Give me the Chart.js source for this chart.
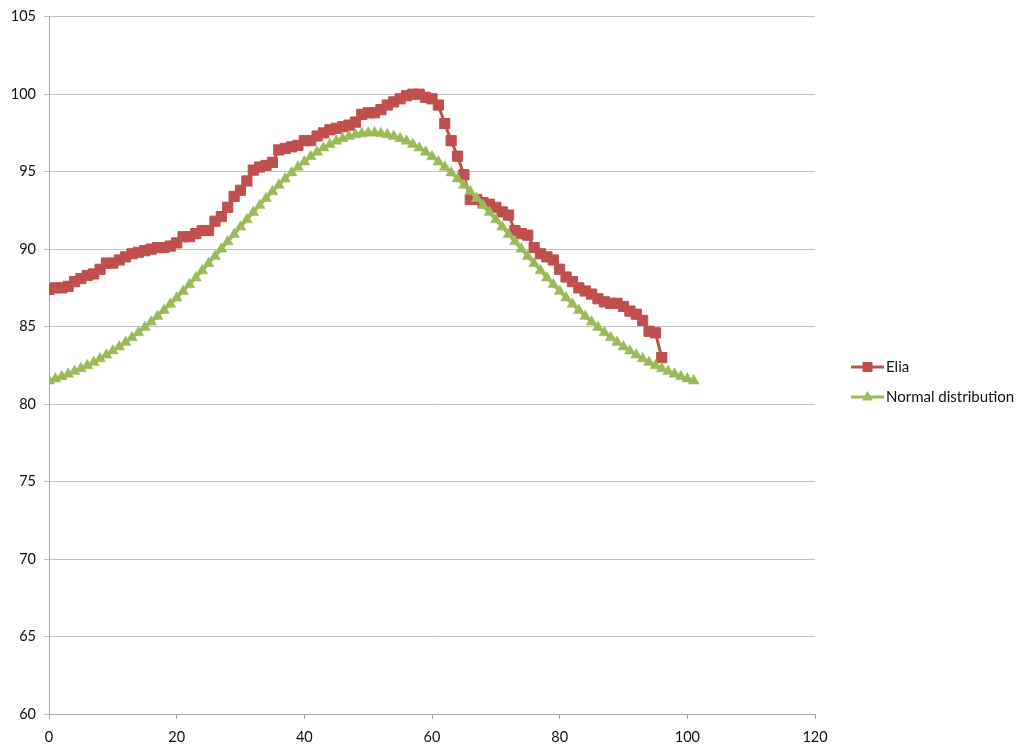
<!DOCTYPE html>
<html>
<head>
<meta charset="utf-8">
<script src="https://cdn.jsdelivr.net/npm/chart.js@4.4.0/dist/chart.umd.min.js"></script>
<style>
html,body{margin:0;padding:0;background:#fff;}
#wrap{position:relative;width:1024px;height:755px;}
</style>
</head>
<body>
<div id="wrap"><canvas id="c" width="1024" height="755"></canvas></div>
<script>
const seriesNames = ["Elia", "Normal distribution"];
const xTicks = [0, 20, 40, 60, 80, 100, 120];
const yTicks = [60, 65, 70, 75, 80, 85, 90, 95, 100, 105];

const elia = [
  87.4, 87.5, 87.5, 87.6, 87.9, 88.1, 88.3, 88.4, 88.7, 89.1,
  89.1, 89.3, 89.5, 89.7, 89.8, 89.9, 90.0, 90.1, 90.1, 90.2,
  90.4, 90.8, 90.8, 91.0, 91.2, 91.2, 91.8, 92.1, 92.7, 93.4,
  93.8, 94.4, 95.1, 95.3, 95.4, 95.6, 96.4, 96.5, 96.6, 96.7,
  97.0, 97.0, 97.3, 97.5, 97.7, 97.8, 97.9, 98.0, 98.2, 98.7,
  98.8, 98.8, 99.0, 99.3, 99.5, 99.7, 99.9, 100.0, 100.0, 99.8,
  99.7, 99.3, 98.1, 97.0, 96.0, 94.8, 93.2, 93.2, 93.0, 92.9,
  92.7, 92.4, 92.2, 91.2, 91.0, 90.9, 90.1, 89.7, 89.5, 89.3,
  88.7, 88.2, 87.9, 87.5, 87.3, 87.1, 86.8, 86.6, 86.5, 86.5,
  86.3, 86.0, 85.8, 85.4, 84.7, 84.6, 83.0
];

const normalDist = [
  81.50, 81.63, 81.78, 81.94, 82.11, 82.29, 82.49, 82.70, 82.93, 83.17,
  83.43, 83.70, 83.99, 84.29, 84.61, 84.95, 85.30, 85.67, 86.05, 86.45,
  86.85, 87.28, 87.71, 88.15, 88.61, 89.07, 89.53, 90.01, 90.48, 90.95,
  91.43, 91.90, 92.37, 92.82, 93.27, 93.71, 94.13, 94.54, 94.93, 95.30,
  95.64, 95.97, 96.26, 96.53, 96.76, 96.97, 97.14, 97.28, 97.39, 97.46,
  97.50, 97.50, 97.46, 97.39, 97.28, 97.14, 96.97, 96.76, 96.53, 96.26,
  95.97, 95.64, 95.30, 94.93, 94.54, 94.13, 93.71, 93.27, 92.82, 92.37,
  91.90, 91.43, 90.95, 90.48, 90.01, 89.53, 89.07, 88.61, 88.15, 87.71,
  87.28, 86.85, 86.45, 86.05, 85.67, 85.30, 84.95, 84.61, 84.29, 83.99,
  83.70, 83.43, 83.17, 82.93, 82.70, 82.49, 82.29, 82.11, 81.94, 81.78,
  81.63, 81.50
];

const RED = '#C0504D';
const GREEN = '#9BBB59';
const FONT = 'Lato, "Open Sans", sans-serif';

function toPoints(arr){ return arr.map((v,i)=>({x:i, y:v})); }

const legendPlugin = {
  id: 'sideLegend',
  afterDraw(chart){
    const ctx = chart.ctx;
    const items = [
      {name: seriesNames[0], color: RED, style: 'rect', y: 367},
      {name: seriesNames[1], color: GREEN, style: 'triangle', y: 397}
    ];
    ctx.save();
    items.forEach(it => {
      ctx.strokeStyle = it.color;
      ctx.lineWidth = 3;
      ctx.beginPath();
      ctx.moveTo(851, it.y);
      ctx.lineTo(884, it.y);
      ctx.stroke();
      ctx.fillStyle = it.color;
      ctx.beginPath();
      if (it.style === 'rect') {
        ctx.rect(862.5, it.y - 5, 10, 10);
      } else {
        ctx.moveTo(867.5, it.y - 6);
        ctx.lineTo(873, it.y + 3.5);
        ctx.lineTo(862, it.y + 3.5);
        ctx.closePath();
      }
      ctx.fill();
      ctx.fillStyle = '#111';
      ctx.font = '15px ' + FONT;
      ctx.textBaseline = 'middle';
      ctx.textAlign = 'left';
      ctx.fillText(it.name, 886, it.y + 0.5);
    });
    ctx.restore();
  }
};

new Chart(document.getElementById('c'), {
  type: 'line',
  data: {
    datasets: [
      {
        label: seriesNames[0],
        data: toPoints(elia),
        borderColor: RED,
        backgroundColor: RED,
        borderWidth: 3,
        pointStyle: 'rect',
        pointRadius: 7.2,
        pointBorderWidth: 1,
        pointBackgroundColor: RED,
        pointBorderColor: RED,
        tension: 0,
        order: 2
      },
      {
        label: seriesNames[1],
        data: toPoints(normalDist),
        borderColor: GREEN,
        backgroundColor: GREEN,
        borderWidth: 3,
        pointStyle: 'triangle',
        pointRadius: 6.3,
        pointBorderWidth: 0.5,
        pointBackgroundColor: GREEN,
        pointBorderColor: GREEN,
        tension: 0,
        order: 1
      }
    ]
  },
  options: {
    responsive: false,
    animation: false,
    devicePixelRatio: 1,
    layout: { padding: { top: 15, right: 209, left: 0, bottom: 0 } },
    plugins: { legend: { display: false }, tooltip: { enabled: false } },
    scales: {
      x: {
        type: 'linear',
        min: 0, max: 120,
        afterBuildTicks(s){ s.ticks = xTicks.map(v => ({value: v})); },
        afterFit(s){ s.height = 41; },
        grid: { drawOnChartArea: false, drawTicks: true, tickLength: 5, color: '#a6a6a6' },
        border: { display: true, color: '#a6a6a6', width: 1 },
        ticks: { padding: 10, color: '#111', font: { family: FONT, size: 14.5 }, maxRotation: 0 }
      },
      y: {
        type: 'linear',
        min: 60, max: 105,
        afterBuildTicks(s){ s.ticks = yTicks.map(v => ({value: v})); },
        afterFit(s){ s.width = 49; },
        grid: { drawOnChartArea: true, drawTicks: true, tickLength: 5, color: '#bfbfbf' },
        border: { display: true, color: '#a6a6a6', width: 1 },
        ticks: { padding: 8, color: '#111', font: { family: FONT, size: 14.5 } }
      }
    }
  },
  plugins: [legendPlugin]
});
</script>
</body>
</html>
